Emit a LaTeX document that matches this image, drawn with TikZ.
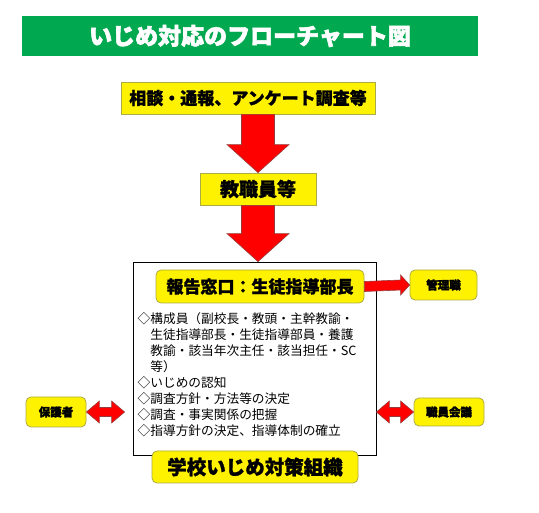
\documentclass[tikz,border=0pt]{standalone}
\usepackage{fontspec}
\setmainfont[BoldFeatures={FakeBold=1.2}]{Noto Sans CJK JP}
\newfontfamily\heavy[BoldFeatures={FakeBold=2.5}]{Noto Sans CJK JP}
\usepackage{tikz}
\usetikzlibrary{calc}
\definecolor{titlegreen}{RGB}{0,168,80}
\definecolor{boxline}{RGB}{170,170,70}
\definecolor{arrowline}{RGB}{150,60,60}
\newcommand{\blockdown}[2]{\draw[blockarrow] ($(#1)+(-16.5,0)$) -- ($(#1)+(16.5,0)$) -- ($(#2)+(16.5,-28)$) -- ($(#2)+(31,-28)$) -- (#2) -- ($(#2)+(-31,-28)$) -- ($(#2)+(-16.5,-28)$) -- cycle;}
\newcommand{\blockright}[2]{\draw[blockarrow] ($(#1)+(0,-5)$) -- ($(#2)+(-9,-5)$) -- ($(#2)+(-9,-10)$) -- (#2) -- ($(#2)+(-9,10)$) -- ($(#2)+(-9,5)$) -- ($(#1)+(0,5)$) -- cycle;}
\newcommand{\blockboth}[2]{\draw[blockarrow] (#1) -- ($(#1)+(13,-11)$) -- ($(#1)+(13,-4.5)$) -- ($(#2)+(-13,-4.5)$) -- ($(#2)+(-13,-11)$) -- (#2) -- ($(#2)+(-13,11)$) -- ($(#2)+(-13,4.5)$) -- ($(#1)+(13,4.5)$) -- ($(#1)+(13,11)$) -- cycle;}

\begin{document}
\begin{tikzpicture}[x=1pt, y=-1pt,
    flatbox/.style={fill=yellow, draw=boxline, line width=0.8pt, inner sep=0pt, font=\bfseries},
    roundbox/.style={flatbox, rounded corners=5pt},
    smallbox/.style={roundbox, font=\heavy\bfseries\fontsize{11.5}{12}\selectfont},
    blockarrow/.style={fill=red, draw=arrowline, line width=0.6pt, line join=miter}]
      \useasboundingbox (0,0) rectangle (539,513);
      \node[fill=titlegreen, text=white, minimum width=456, minimum height=40, inner sep=0pt,
        font=\heavy\bfseries\fontsize{23}{24}\selectfont] (A) at (250,36) {いじめ対応のフローチャート図};
      \node[flatbox, minimum width=254, minimum height=32, font=\bfseries\fontsize{17}{18}\selectfont] (B) at (248,98) {相談・通報、アンケート調査等};
      \node[flatbox, minimum width=116, minimum height=32, font=\bfseries\fontsize{19}{20}\selectfont] (C) at (258,189) {教職員等};
      \node[draw, line width=0.8pt, minimum width=243, minimum height=193, inner sep=0pt] (D) at (254.5,358.5) {};
      \node[roundbox, minimum width=208, minimum height=33, font=\bfseries\fontsize{17}{18}\selectfont] (E) at (260,286.5) {報告窓口：生徒指導部長};
      \node[smallbox, minimum width=67, minimum height=30] (F) at (443.5,285) {管理職};
      \node[smallbox, minimum width=60, minimum height=30] (G) at (56,412) {保護者};
      \node[smallbox, minimum width=70, minimum height=28] (H) at (449,412) {職員会議};
      \node[anchor=north west, inner sep=0pt, align=left, font=\fontsize{12.7}{16}\selectfont] (I) at (137.5,312)
        {◇構成員（副校長・教頭・主幹教諭・\\
         \hspace*{1em}生徒指導部長・生徒指導部員・養護\\
         \hspace*{1em}教諭・該当年次主任・該当担任・SC\\
         \hspace*{1em}等）\\
         ◇いじめの認知\\
         ◇調査方針・方法等の決定\\
         ◇調査・事実関係の把握\\
         ◇指導方針の決定、指導体制の確立};
      \node[roundbox, minimum width=206, minimum height=32, font=\bfseries\fontsize{19.5}{20}\selectfont] (J) at (255,467) {学校いじめ対策組織};
      \coordinate (P) at ($(G.east -| D.west)+(-8,0)$);
      \blockdown{B.south -| C.north}{C.north}
      \blockdown{C.south}{C.south |- D.north}
      \blockright{E.east}{F.west}
      \blockboth{G.east}{P}
      \blockboth{D.east |- H.west}{H.west}
    \end{tikzpicture}
\end{document}
